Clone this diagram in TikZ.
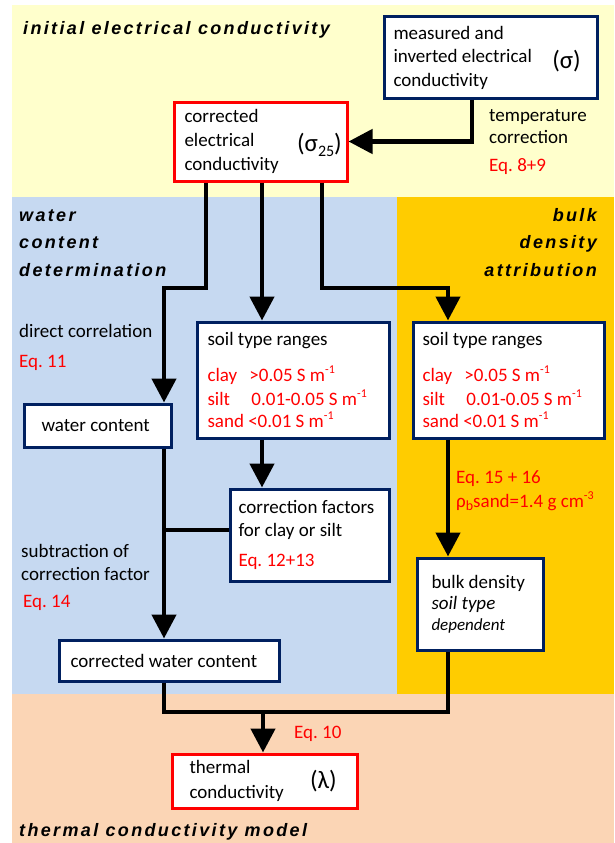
\documentclass[tikz,border=0pt]{standalone}
\usepackage{fontspec}
\setmainfont{Carlito}
\newfontfamily\headfont[LetterSpace=13]{Liberation Sans}
\usetikzlibrary{arrows.meta}
\definecolor{bandyellow}{RGB}{255,255,204}
\definecolor{bandblue}{RGB}{198,217,241}
\definecolor{bandorange}{RGB}{255,204,0}
\definecolor{bandpeach}{RGB}{251,213,181}
\definecolor{boxnavy}{RGB}{0,32,96}
\frenchspacing
\newcommand\upidx[1]{\raisebox{0.42em}{\fontsize{12}{12}\selectfont #1}}
\newcommand\lowidx[1]{\raisebox{-0.2em}{\fontsize{14}{14}\selectfont #1}}
\newcommand\soilranges{soil type ranges\\[12.5pt]
  \textcolor{red}{\makebox[42pt][l]{clay}>0.05 S m\upidx{-1}}\\
  \textcolor{red}{\makebox[44pt][l]{silt}0.01-0.05 S m\upidx{-1}}\\[-1.5pt]
  \textcolor{red}{sand <0.01 S m\upidx{-1}}}
\begin{document}
\begin{tikzpicture}[x=1pt,y=-1pt,
    every node/.style={font=\fontsize{19}{23.5}\selectfont},
    navybox/.style={draw=boxnavy,line width=3pt,fill=white,align=flush left,anchor=north west},
    redbox/.style={draw=red,line width=3pt,fill=white,align=flush left,anchor=north west},
    symb/.style={font=\fontsize{25}{25}\selectfont,inner sep=0pt,anchor=east},
    lbl/.style={inner sep=0pt,anchor=base west},
    eq/.style={lbl,text=red},
    heading/.style={inner sep=0pt,font=\headfont\bfseries\itshape\fontsize{18}{20}\selectfont},
    wire/.style={line width=4.5pt},
    flow/.style={wire,-{Triangle[width=24pt,length=24pt]}}]
                  % bands
                  \fill[white] (0,0) rectangle (614,843);
                  \fill[bandyellow] (12,5) rectangle (614,197);
                  \fill[bandblue] (12,197) rectangle (397,694);
                  \fill[bandorange] (397,197) rectangle (614,694);
                  \fill[bandpeach] (12,694) rectangle (614,843);
                  \useasboundingbox (0,0) rectangle (614,843);
                  % headings
                  \node[heading,anchor=base west] (hinit) at (23,35) {initial electrical conductivity};
                  \node[heading,anchor=base west] (hwater) at (19,221) {water};
                  \node[heading,anchor=base west] (hcontent) at (19,248) {content};
                  \node[heading,anchor=base west] (hdeterm) at (19,276) {determination};
                  \node[heading,anchor=base east] (hbulk) at (597,221) {bulk};
                  \node[heading,anchor=base east] (hdensity) at (597,248) {density};
                  \node[heading,anchor=base east] (hattrib) at (597,276) {attribution};
                  \node[heading,anchor=base west] (hthermal) at (19,836) {thermal conductivity model};
                  % boxes
                  \node[navybox,minimum width=213pt,minimum height=81pt,inner xsep=9.5pt,text width=194pt]
                      (meas) at (382.5,15.5) {measured and\\inverted electrical\\conductivity};
                  \node[symb] (meassym) at ([xshift=-17.5pt,yshift=-4pt]meas.east) {(σ)};
                  \node[redbox,minimum width=173pt,minimum height=79pt,inner xsep=10.5pt,text width=152pt,
                      font=\fontsize{19}{24}\selectfont]
                      (corr) at (172.5,100.5) {corrected\\electrical\\conductivity};
                  \node[symb] (corrsym) at ([xshift=-6.5pt,yshift=-3pt]corr.east)
                      {(σ\raisebox{-0.2em}{\fontsize{16}{16}\selectfont 25})};
                  \node[navybox,minimum width=192pt,minimum height=116pt,inner xsep=10.5pt,text width=171pt]
                      (soil1) at (195.5,320.5) {\soilranges};
                  \node[navybox,minimum width=191pt,minimum height=116pt,inner xsep=9.5pt,text width=172pt]
                      (soil2) at (411.5,320.5) {\soilranges};
                  \node[navybox,minimum width=147pt,minimum height=43pt,inner xsep=17.5pt,text width=112pt]
                      (water) at (22.5,402.5) {water content};
                  \node[navybox,minimum width=159pt,minimum height=92pt,inner xsep=8.5pt,text width=142pt]
                      (cfac) at (228.5,487.5) {correction factors\\for clay or silt\\[6.5pt]\textcolor{red}{Eq. 12+13}};
                  \node[navybox,minimum width=220pt,minimum height=41pt,inner xsep=11.5pt,text width=197pt]
                      (cwat) at (57.5,638.5) {corrected water content};
                  \node[navybox,minimum width=126pt,minimum height=92pt,inner xsep=14.5pt,text width=97pt,
                      font=\fontsize{19}{21}\selectfont]
                      (bulk) at (415.5,556.5) {bulk density\\\textit{soil type}\\{\fontsize{17}{21}\selectfont\textit{dependent}}};
                  \node[redbox,minimum width=185pt,minimum height=54pt,inner xsep=17.5pt,text width=150pt,
                      font=\fontsize{19}{25}\selectfont]
                      (therm) at (170.5,752.5) {thermal\\conductivity};
                  \node[symb] (thermsym) at ([xshift=-21.5pt]therm.east) {(λ)};
                  % labels
                  \node[lbl] (tcorr1) at (489,121) {temperature};
                  \node[lbl] (tcorr2) at (489,143) {correction};
                  \node[eq] (eqtemp) at (489,171) {Eq. 8+9};
                  \node[lbl] (dcorr) at (19,337) {direct correlation};
                  \node[eq] (eqdirect) at (19,367) {Eq. 11};
                  \node[lbl] (subtr1) at (21,557) {subtraction of};
                  \node[lbl] (subtr2) at (21,580) {correction factor};
                  \node[eq] (eqsubtr) at (23,607) {Eq. 14};
                  \node[eq] (eqbulk) at (456,483) {Eq. 15 + 16};
                  \node[eq] (rhob) at (456,507) {ρ\lowidx{b}sand=1.4 g cm\upidx{-3}};
                  \node[eq] (eqmodel) at (294,738) {Eq. 10};
                  % junctions
                  \coordinate (tc) at (472,0);
                  \coordinate (jl1) at (206,288);
                  \coordinate (jl2) at (164,288);
                  \coordinate (jm) at (262,0);
                  \coordinate (jr1) at (322,288);
                  \coordinate (jr2) at (448,288);
                  \coordinate (jb) at (263,712);
                  % connectors
                  \draw[flow] (meas.south -| tc) |- (corr.east);
                  \draw[flow] (corr.south -| jl1) -- (jl1) -- (jl2) -- (water.north -| jl2);
                  \draw[flow] (corr.south -| jm) -- (soil1.north -| jm);
                  \draw[flow] (corr.south -| jr1) -- (jr1) -- (jr2) -- (soil2.north -| jr2);
                  \draw[flow] (soil1.south -| jm) -- (cfac.north -| jm);
                  \draw[flow] (water.south -| jl2) -- (cwat.north -| jl2);
                  \draw[wire] ([yshift=5pt]cfac.west) -- ([yshift=5pt]cfac.west -| jl2);
                  \draw[flow] (soil2.south -| jr2) -- (bulk.north -| jr2);
                  \draw[wire] (cwat.south -| jl2) |- (jb) -| (bulk.south -| jr2);
                  \draw[flow] (jb) -- (therm.north -| jb);
\end{tikzpicture}
\end{document}
